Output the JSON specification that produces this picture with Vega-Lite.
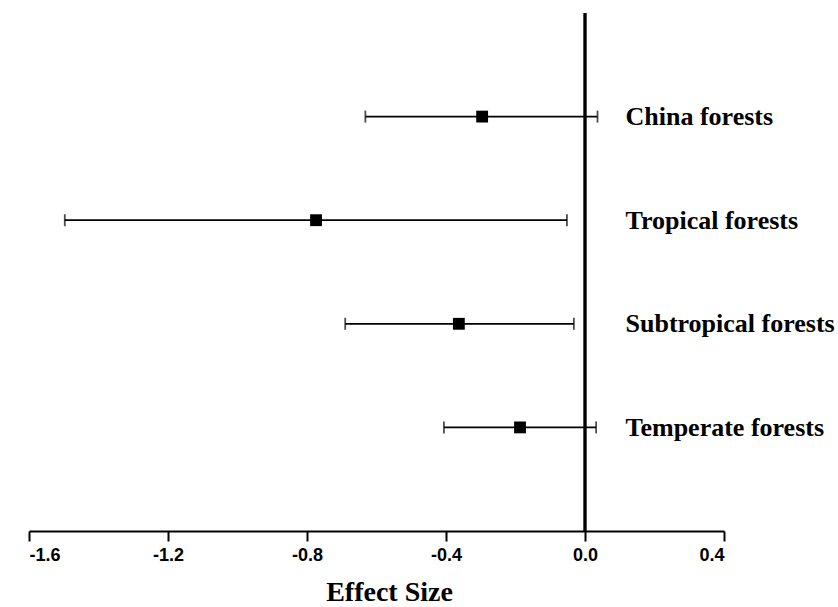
{
  "$schema": "https://vega.github.io/schema/vega-lite/v6.json",
  "width": 695,
  "height": 518,
  "autosize": "none",
  "padding": {"left": 29, "top": 13, "right": 114, "bottom": 76},
  "background": "white",
  "data": {"values": [
    {"group": "China forests", "mean": -0.296, "lo": -0.632, "hi": 0.036},
    {"group": "Tropical forests", "mean": -0.774, "lo": -1.497, "hi": -0.052},
    {"group": "Subtropical forests", "mean": -0.363, "lo": -0.69, "hi": -0.032},
    {"group": "Temperate forests", "mean": -0.187, "lo": -0.406, "hi": 0.032}
  ]},
  "config": {"view": {"stroke": null}},
  "encoding": {
    "y": {"field": "group", "type": "nominal", "sort": null,
      "scale": {"type": "point", "padding": 1},
      "axis": {"orient": "right", "offset": -99, "domain": false, "ticks": false, "labelPadding": 0, "labelAlign": "left", "labelLimit": 0,
        "labelFont": "Liberation Serif", "labelFontWeight": "bold", "labelFontSize": 26, "labelColor": "black", "title": null}}
  },
  "layer": [
    {"mark": {"type": "rule", "color": "black", "strokeWidth": 2.5},
     "encoding": {"x": {"datum": 0, "type": "quantitative"}, "y": null}},
    {"mark": {"type": "rule", "color": "black", "strokeWidth": 1.8},
     "encoding": {
       "x": {"field": "lo", "type": "quantitative",
         "scale": {"domain": [-1.6, 0.4], "nice": false, "zero": false},
         "axis": {"values": [-1.6, -1.2, -0.8, -0.4, 0.0, 0.4], "labelExpr": "replace(format(datum.value, '.1f'), '\u2212', '-')", "grid": false,
           "domainColor": "black", "domainWidth": 2, "tickColor": "black", "tickWidth": 2, "tickSize": 10,
           "labelFont": "Liberation Sans", "labelFontWeight": "bold", "labelFontSize": 18, "labelColor": "black", "labelPadding": 5,
           "title": "Effect Size", "titleFont": "Liberation Serif", "titleFontWeight": "bold", "titleFontSize": 28, "titleColor": "black",
           "titleX": 360, "titleY": 69, "titleBaseline": "alphabetic", "titleAlign": "center"}},
       "x2": {"field": "hi"}}},
    {"mark": {"type": "tick", "orient": "vertical", "color": "black", "thickness": 1.8, "size": 12},
     "encoding": {"x": {"field": "lo", "type": "quantitative"}}},
    {"mark": {"type": "tick", "orient": "vertical", "color": "black", "thickness": 1.8, "size": 12},
     "encoding": {"x": {"field": "hi", "type": "quantitative"}}},
    {"mark": {"type": "point", "shape": "square", "filled": true, "color": "black", "opacity": 1, "size": 140},
     "encoding": {"x": {"field": "mean", "type": "quantitative"}}}
  ]
}
